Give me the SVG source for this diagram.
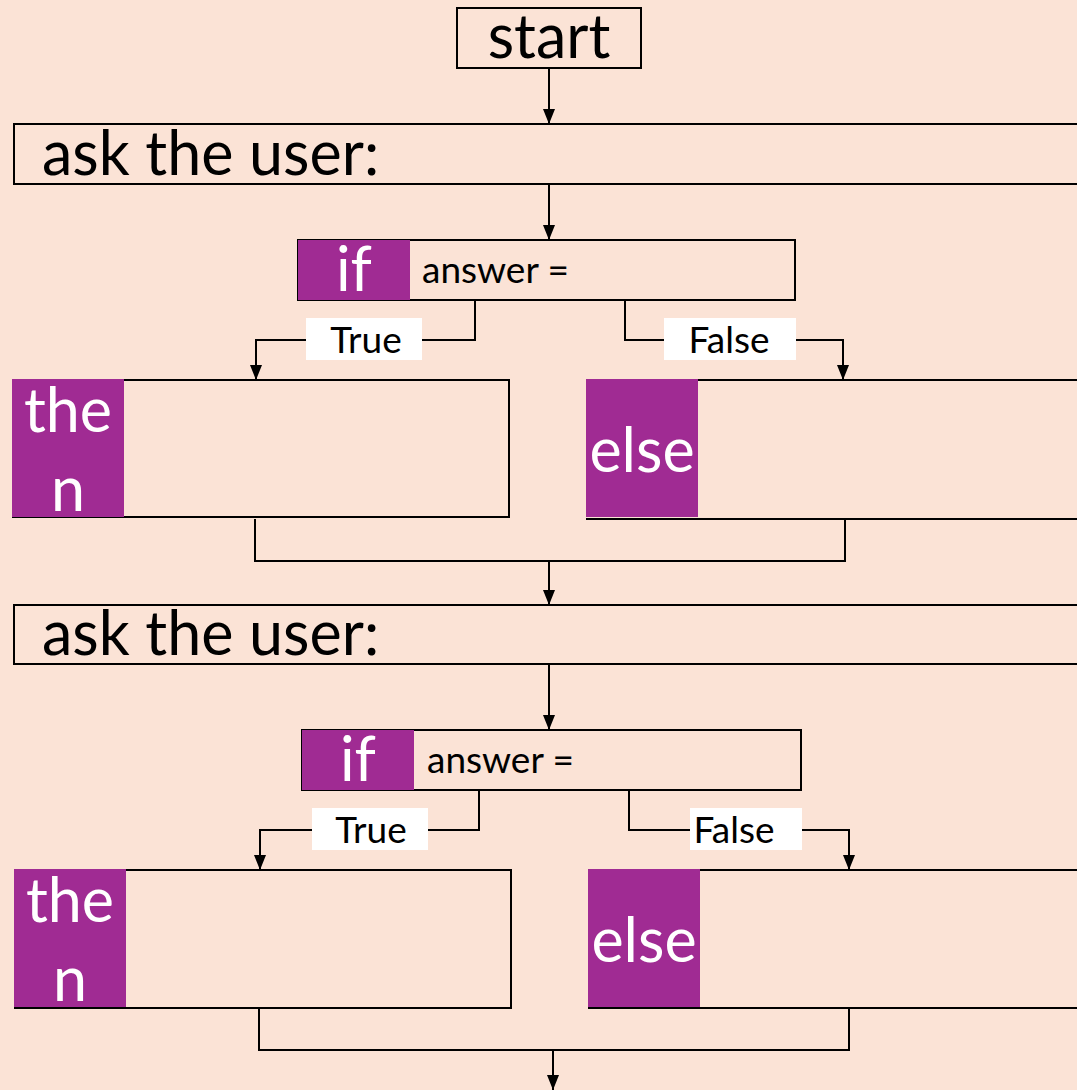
<svg xmlns="http://www.w3.org/2000/svg" width="1077" height="1090" viewBox="0 0 1077 1090">
  <defs>
    <marker id="arrow" viewBox="0 0 15 12" refX="15" refY="6" markerWidth="15" markerHeight="12" markerUnits="userSpaceOnUse" orient="auto">
      <path d="M0,0 L15,6 L0,12 Z" fill="#000"/>
    </marker>
  </defs>
  <style>
    .box { fill: none; stroke: #000; stroke-width: 2; }
    .kw { fill: #A02B93; }
    .big { font-family: Lato, "Open Sans", sans-serif; font-size: 61px; fill: #000; }
    .kwt { font-family: Lato, "Open Sans", sans-serif; font-size: 61px; fill: #fff; text-anchor: middle; }
    .small { font-family: Lato, "Open Sans", sans-serif; font-size: 37px; fill: #000; }
    .lbl { fill: #fff; }
    .lblt { font-family: Lato, "Open Sans", sans-serif; font-size: 37px; fill: #000; text-anchor: middle; }
    .wire { fill: none; stroke: #000; stroke-width: 2; }
    .arr { fill: none; stroke: #000; stroke-width: 2; marker-end: url(#arrow); }
  </style>
  <rect width="1077" height="1090" fill="#FBE3D6"/>

  <!-- start -->
  <g id="start">
    <rect class="box" x="457" y="8" width="184" height="60"/>
    <text class="big" x="549" y="58" text-anchor="middle" font-size="56">start</text>
  </g>

  <!-- first question -->
  <g id="ask1">
    <rect class="box" x="14" y="124" width="1090" height="60"/>
    <text class="big" x="42" y="175">ask the user:</text>
  </g>
  <g id="if1">
    <rect class="box" x="298" y="240" width="497" height="60"/>
    <rect class="kw" x="298" y="240" width="112" height="60"/>
    <text class="kwt" x="354" y="291">if</text>
    <text class="small" x="422" y="283">answer =</text>
  </g>
  <g id="then1">
    <path class="box" d="M124,380 H509 V517 H12"/>
    <rect class="kw" x="12" y="379" width="112" height="138"/>
    <text class="kwt" x="68" y="432">the</text>
    <text class="kwt" x="68" y="511">n</text>
  </g>
  <g id="else1">
    <path class="box" d="M698,380 H1090 M586,519 H1090"/>
    <rect class="kw" x="586" y="379" width="112" height="138"/>
    <text class="kwt" x="642" y="472">else</text>
  </g>

  <!-- second question -->
  <g id="ask2">
    <rect class="box" x="14" y="605" width="1090" height="59"/>
    <text class="big" x="42" y="655">ask the user:</text>
  </g>
  <g id="if2">
    <rect class="box" x="302" y="730" width="499" height="60"/>
    <rect class="kw" x="302" y="730" width="112" height="60"/>
    <text class="kwt" x="358" y="781">if</text>
    <text class="small" x="427" y="773">answer =</text>
  </g>
  <g id="then2">
    <path class="box" d="M126,870 H511 V1008 H14"/>
    <rect class="kw" x="14" y="869" width="112" height="138"/>
    <text class="kwt" x="70" y="922">the</text>
    <text class="kwt" x="70" y="1001">n</text>
  </g>
  <g id="else2">
    <path class="box" d="M700,870 H1090 M588,1008 H1090"/>
    <rect class="kw" x="588" y="869" width="112" height="138"/>
    <text class="kwt" x="644" y="962">else</text>
  </g>

  <!-- connectors -->
  <g id="connectors">
    <path class="arr" d="M549,68 V124"/>
    <path class="arr" d="M549,184 V240"/>
    <path class="arr" d="M475,300 V340 H256 V380"/>
    <path class="arr" d="M625,300 V340 H843 V380"/>
    <path class="wire" d="M255,519 V561 H845 V519"/>
    <path class="arr" d="M549,561 V605"/>
    <path class="arr" d="M549,664 V730"/>
    <path class="arr" d="M479,790 V830 H260 V870"/>
    <path class="arr" d="M629,790 V830 H849 V870"/>
    <path class="wire" d="M259,1009 V1050 H849 V1009"/>
    <path class="arr" d="M553,1050 V1090"/>

    <!-- branch labels -->
    <rect class="lbl" x="306" y="318" width="116" height="42"/>
    <text class="lblt" x="366" y="353">True</text>
    <rect class="lbl" x="664" y="318" width="132" height="42"/>
    <text class="lblt" x="729" y="353">False</text>
    <rect class="lbl" x="312" y="808" width="116" height="42"/>
    <text class="lblt" x="371" y="843">True</text>
    <rect class="lbl" x="690" y="808" width="112" height="42"/>
    <text class="lblt" x="734" y="843">False</text>
  </g>
</svg>
